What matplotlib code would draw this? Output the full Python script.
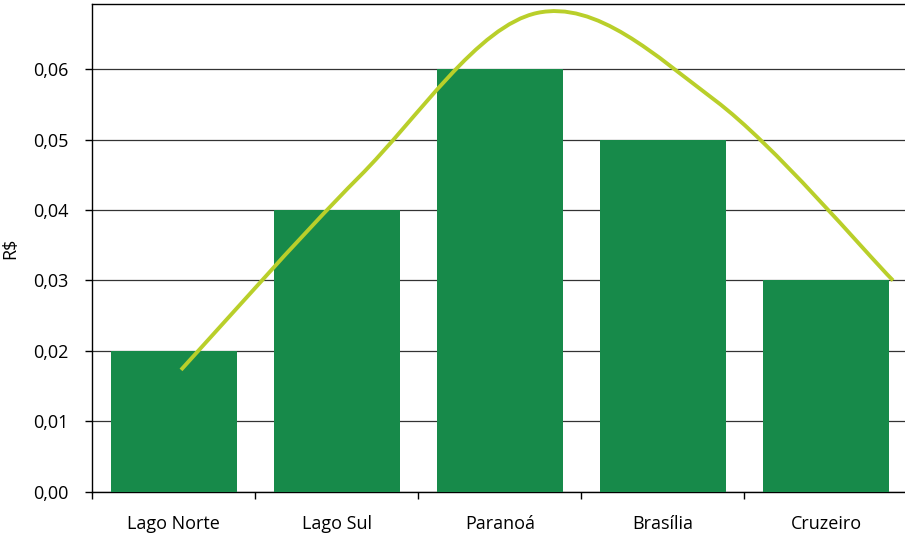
"""Preço médio por região administrativa, barras com curva suavizada."""
import matplotlib
matplotlib.use("Agg")
import matplotlib.pyplot as plt
import numpy as np
from matplotlib.path import Path
from matplotlib.patches import PathPatch

plt.rcParams["font.family"] = ["Open Sans", "DejaVu Sans"]

regioes = ["Lago Norte", "Lago Sul", "Paranoá", "Brasília", "Cruzeiro"]
valores = [0.02, 0.04, 0.06, 0.05, 0.03]

# pontos da curva de tendência (posição no eixo de categorias, valor em R$)
curva_x = [0.044, 1.136, 2.228, 3.319, 4.411]
curva_y = [0.0173, 0.0447, 0.0680, 0.0556, 0.0300]

BAR_COLOR = "#178a4a"
LINE_COLOR = "#b9cf2a"


def smooth_path(xs, ys):
    # Catmull-Rom convertido em segmentos Bézier cúbicos
    pts = np.column_stack([xs, ys])
    n = len(pts)
    verts = [pts[0]]
    codes = [Path.MOVETO]
    for i in range(n - 1):
        p0 = pts[i - 1] if i > 0 else pts[i]
        p1 = pts[i]
        p2 = pts[i + 1]
        p3 = pts[i + 2] if i + 2 < n else pts[i + 1]
        c1 = p1 + (p2 - p0) / 6.0
        c2 = p2 - (p3 - p1) / 6.0
        verts += [c1, c2, p2]
        codes += [Path.CURVE4] * 3
    return Path(verts, codes)


fig = plt.figure(figsize=(9.05, 5.37), dpi=100)
ax = fig.add_axes([0.102, 0.0844, 0.9008, 0.908])

x = np.arange(len(regioes))
ax.bar(x, valores, width=0.77, color=BAR_COLOR, zorder=3)

patch = PathPatch(smooth_path(curva_x, curva_y), facecolor="none",
                  edgecolor=LINE_COLOR, lw=2.8, zorder=4, capstyle="butt")
ax.add_patch(patch)

ax.set_xlim(-0.5, len(regioes) - 0.5)
ax.set_ylim(0, 0.06926)

yt = np.arange(0, 0.061, 0.01)
ax.set_yticks(yt)
ax.set_yticklabels([f"{v:.2f}".replace(".", ",") for v in yt])
ax.yaxis.grid(True, color="#333333", lw=0.9, zorder=0)
ax.set_axisbelow(True)

# traços nas divisões das categorias, rótulos no centro
ax.set_xticks(np.arange(-0.5, len(regioes), 1.0))
ax.set_xticklabels([])
ax.set_xticks(x, minor=True)
ax.set_xticklabels(regioes, minor=True)
ax.tick_params(axis="x", which="major", length=5, width=1, direction="out", color="black")
ax.tick_params(axis="x", which="minor", length=0, pad=17, labelsize=13)
ax.tick_params(axis="y", length=5, width=1, direction="out", pad=12, labelsize=13)

for side in ("left", "bottom", "top"):
    ax.spines[side].set_color("black")
    ax.spines[side].set_linewidth(1.0)
ax.spines["right"].set_visible(False)

ax.set_ylabel("R$", fontsize=13, labelpad=10)

fig.savefig("out.png", dpi=100)
